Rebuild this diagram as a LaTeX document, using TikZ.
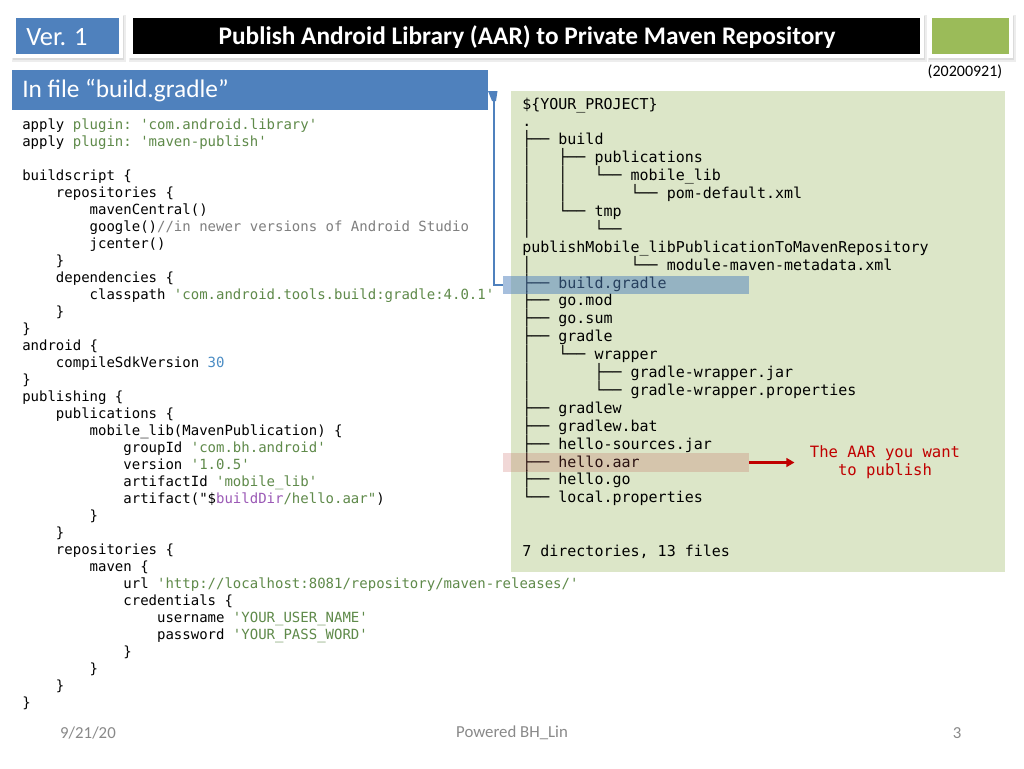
\documentclass[tikz,border=0pt]{standalone}
\usepackage{fontspec}
\setmonofont{DejaVu Sans Mono}
\newfontfamily\calfont{Carlito}
\usetikzlibrary{arrows.meta}
\definecolor{ppblue}{HTML}{4F81BD}
\definecolor{ppgreen}{HTML}{9BBB59}
\definecolor{treebg}{HTML}{DCE6C8}
\definecolor{strg}{HTML}{5F8A4A}
\definecolor{cmtg}{HTML}{7F7F7F}
\definecolor{numb}{HTML}{4A8CC4}
\definecolor{purp}{HTML}{9B59B6}
\definecolor{aarred}{HTML}{C00000}
\definecolor{hlred}{HTML}{C0504D}
\definecolor{foot}{HTML}{898989}
\newcommand\ind[1]{\hspace*{#1\fontcharwd\font`0}}
\newcommand\gs[1]{\textcolor{strg}{#1}}
\newcommand\codeln[2]{\node[codeline] (c#1) at (22,{129.5+17*#1}) {#2};}
\newcommand\treeln[2]{\node[treeline] (t#1) at (522,{109+17.9*#1}) {#2};}
\begin{document}
\begin{tikzpicture}[x=0.75pt,y=-0.75pt,
  box/.style={anchor=north west, inner sep=0pt, outer sep=0pt, draw=none},
  codeline/.style={anchor=base west, inner sep=0pt, font=\ttfamily\fontsize{10.5pt}{12pt}\selectfont},
  treeline/.style={anchor=base west, inner sep=0pt, font=\ttfamily\fontsize{11.25pt}{13pt}\selectfont},
  calib/.style={font=\calfont\fontsize{#1}{#1}\selectfont},
  foottext/.style={text=foot, calib=12.6pt}]
\useasboundingbox (0,0) rectangle (1024,768);
\fill[white] (0,0) rectangle (1024,768);
% title bar frames with soft shadow
\foreach \a/\b in {16/119, 133/920, 932/1009} {
  \fill[black!7] (\a-4,15) rectangle (\b+7,62);
  \fill[black!14] (\a-3,16) rectangle (\b+5,60);
  \fill[white] (\a-4,14) rectangle (\b+4,58);
}
\node[box, fill=ppblue, minimum width=77.25pt, minimum height=27pt] (ver) at (16,18) {};
\node[anchor=west, inner sep=0pt, text=white, calib=19.8pt] (vertxt) at (26,37) {Ver. 1};
\node[box, fill=black, minimum width=590.25pt, minimum height=27pt] (titlebox) at (133,18) {};
\node[text=white, font=\calfont\bfseries\fontsize{19pt}{21pt}\selectfont] (title) at (527,37) {Publish Android Library (AAR) to Private Maven Repository};
\node[box, fill=ppgreen, minimum width=57.75pt, minimum height=27pt] (greenbox) at (932,18) {};
\node[calib=12pt] (date) at (965,72) {(20200921)};
% header
\node[box, fill=ppblue, minimum width=357pt, minimum height=30pt] (hdr) at (12,70) {};
\node[anchor=west, inner sep=0pt, text=white, calib=19pt] (hdrtxt) at (22,91) {In file “build.gradle”};
% tree background
\node[box, fill=treebg, minimum width=370.5pt, minimum height=360.75pt] (treebox) at (511,91) {};
% code
\codeln{0}{apply \gs{plugin: 'com.android.library'}}
\codeln{1}{apply \gs{plugin: 'maven-publish'}}
\codeln{3}{buildscript \{}
\codeln{4}{\ind{4}repositories \{}
\codeln{5}{\ind{8}mavenCentral()}
\codeln{6}{\ind{8}google()\textcolor{cmtg}{//in newer versions of Android Studio}}
\codeln{7}{\ind{8}jcenter()}
\codeln{8}{\ind{4}\}}
\codeln{9}{\ind{4}dependencies \{}
\codeln{10}{\ind{8}classpath \gs{'com.android.tools.build:gradle:4.0.1'}}
\codeln{11}{\ind{4}\}}
\codeln{12}{\}}
\codeln{13}{android \{}
\codeln{14}{\ind{4}compileSdkVersion \textcolor{numb}{30}}
\codeln{15}{\}}
\codeln{16}{publishing \{}
\codeln{17}{\ind{4}publications \{}
\codeln{18}{\ind{8}mobile\_lib(MavenPublication) \{}
\codeln{19}{\ind{12}groupId \gs{'com.bh.android'}}
\codeln{20}{\ind{12}version \gs{'1.0.5'}}
\codeln{21}{\ind{12}artifactId \gs{'mobile\_lib'}}
\codeln{22}{\ind{12}artifact("\$\textcolor{purp}{buildDir}\gs{/hello.aar"})}
\codeln{23}{\ind{8}\}}
\codeln{24}{\ind{4}\}}
\codeln{25}{\ind{4}repositories \{}
\codeln{26}{\ind{8}maven \{}
\codeln{27}{\ind{12}url \gs{'http://localhost:8081/repository/maven-releases/'}}
\codeln{28}{\ind{12}credentials \{}
\codeln{29}{\ind{16}username \gs{'YOUR\_USER\_NAME'}}
\codeln{30}{\ind{16}password \gs{'YOUR\_PASS\_WORD'}}
\codeln{31}{\ind{12}\}}
\codeln{32}{\ind{8}\}}
\codeln{33}{\ind{4}\}}
\codeln{34}{\}}
% tree
\treeln{0}{\$\{YOUR\_PROJECT\}}
\treeln{1}{.}
\treeln{2}{├── build}
\treeln{3}{│\ind{3}├── publications}
\treeln{4}{│\ind{3}│\ind{3}└── mobile\_lib}
\treeln{5}{│\ind{3}│\ind{7}└── pom-default.xml}
\treeln{6}{│\ind{3}└── tmp}
\treeln{7}{│\ind{7}└──}
\treeln{8}{publishMobile\_libPublicationToMavenRepository}
\treeln{9}{│\ind{11}└── module-maven-metadata.xml}
\treeln{10}{├── build.gradle}
\treeln{11}{├── go.mod}
\treeln{12}{├── go.sum}
\treeln{13}{├── gradle}
\treeln{14}{│\ind{3}└── wrapper}
\treeln{15}{│\ind{7}├── gradle-wrapper.jar}
\treeln{16}{│\ind{7}└── gradle-wrapper.properties}
\treeln{17}{├── gradlew}
\treeln{18}{├── gradlew.bat}
\treeln{19}{├── hello-sources.jar}
\treeln{20}{├── hello.aar}
\treeln{21}{├── hello.go}
\treeln{22}{└── local.properties}
\treeln{25}{7 directories, 13 files}
% highlights
\node[box, fill=ppblue, fill opacity=0.5, minimum width=184.5pt, minimum height=13.5pt] (hlb) at (503,276) {};
\node[box, fill=hlred, fill opacity=0.22, minimum width=184.5pt, minimum height=14.25pt] (hla) at (503,453) {};
% note and arrow
\node[align=center, text=aarred, font=\ttfamily\fontsize{11.7pt}{13.5pt}\selectfont] (note) at (885,462) {The AAR you want\\to publish};
\draw[aarred, line width=2.2pt, -{Triangle[length=6pt,width=6.5pt]}, shorten >=8pt] (hla.east) -- (hla.east -| note.west);
% connector build.gradle -> header
\coordinate (ctip) at (494,94);
\draw[ppblue, line width=2.2pt] (hlb.west) -| (ctip);
\fill[ppblue] (488,91) -- (497.5,91) -- (496,101) -- (492,101) -- cycle;
% footer
\node[foottext] (fdate) at (88,733) {9/21/20};
\node[foottext] (fpow) at (512,733) {Powered BH\_Lin};
\node[foottext] (fpage) at (957,733) {3};
\end{tikzpicture}
\end{document}
